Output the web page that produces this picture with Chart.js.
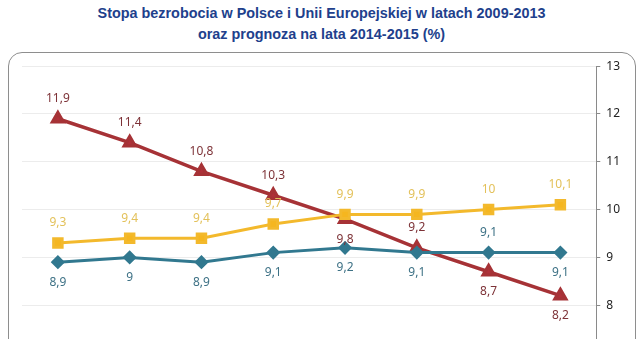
<!DOCTYPE html>
<html>
<head>
<meta charset="utf-8">
<script src="https://cdn.jsdelivr.net/npm/chart.js@4"></script>
<style>
    body { margin: 0; background: #fff; overflow: hidden; width: 643px; height: 339px; position: relative; }
    .title {
        position: absolute; left: 0; top: 3px; width: 643px; text-align: center;
        font-family: 'Liberation Sans', Arial, sans-serif; font-weight: bold; font-size: 14.4px;
        line-height: 21px; color: #213f8c;
    }
    .box {
        position: absolute; left: 8px; top: 52px; width: 626px; height: 400px;
        border: 1px solid #8e8e8e; border-radius: 14px;
    }
    .wrap { position: absolute; left: 9px; top: 53px; width: 625px; height: 330px; }
</style>
</head>
<body>
<div class="title">Stopa bezrobocia w Polsce i Unii Europejskiej w latach 2009-2013<br>oraz prognoza na lata 2014-2015 (%)</div>
<div class="box"></div>
<div class="wrap"><canvas id="chart"></canvas></div>
<script>
// Years and series
const years = ['2008', '2009', '2010', '2011', '2012', '2013', '2014', '2015'];
const seriesTeal = [8.9, 9, 8.9, 9.1, 9.2, 9.1, 9.1, 9.1];
const seriesGold = [9.3, 9.4, 9.4, 9.7, 9.9, 9.9, 10, 10.1];
const seriesRed = [11.9, 11.4, 10.8, 10.3, 9.8, 9.2, 8.7, 8.2];

// Which side of the point each value label sits on
const tealLabelSide = ['below', 'below', 'below', 'below', 'below', 'below', 'above', 'below'];
const goldLabelSide = ['above', 'above', 'above', 'above', 'above', 'above', 'above', 'above'];
const redLabelSide = ['above', 'above', 'above', 'above', 'below', 'above', 'below', 'below'];

// Draws "9,1"-style value labels next to each point
const valueLabels = {
    id: 'valueLabels',
    afterDatasetsDraw(chart) {
        const ctx = chart.ctx;
        ctx.save();
        ctx.font = '12px "Noto Sans", "Liberation Sans", sans-serif';
        ctx.textAlign = 'center';
        ctx.textBaseline = 'middle';
        chart.data.datasets.forEach((ds, i) => {
            const meta = chart.getDatasetMeta(i);
            ctx.fillStyle = ds.labelColor;
            meta.data.forEach((pt, j) => {
                const txt = String(ds.data[j]).replace('.', ',');
                const dy = ds.labelSide[j] === 'above' ? -20 : 20;
                ctx.fillText(txt, pt.x, pt.y + dy);
            });
        });
        ctx.restore();
    }
};

const ctx = document.getElementById('chart').getContext('2d');
const chart = new Chart(ctx, {
    type: 'line',
    data: {
        labels: years,
        datasets: [{
            label: 'Seria 1',
            data: seriesTeal,
            borderColor: '#31788f',
            backgroundColor: '#31788f',
            borderWidth: 3,
            pointStyle: 'rectRot',
            pointRadius: 5,
            labelColor: '#3d7185',
            labelSide: tealLabelSide
        }, {
            label: 'Seria 2',
            data: seriesGold,
            borderColor: '#f3b92c',
            backgroundColor: '#f5b61f',
            borderWidth: 3,
            pointStyle: 'rect',
            pointRadius: 6,
            labelColor: '#e3c15a',
            labelSide: goldLabelSide
        }, {
            label: 'Seria 3',
            data: seriesRed,
            borderColor: '#a63236',
            backgroundColor: '#b0303a',
            borderWidth: 3.5,
            pointStyle: 'triangle',
            pointRadius: 6,
            labelColor: '#7d3237',
            labelSide: redLabelSide
        }]
    },
    options: {
        responsive: true,
        maintainAspectRatio: false,
        animation: false,
        layout: { padding: { left: 13, right: 8, top: 10, bottom: 0 } },
        scales: {
            x: {
                offset: true,
                grid: { display: false },
                border: { display: false },
                ticks: { color: '#333', font: { size: 12 } },
                afterFit(scale) { scale.height = 30; }
            },
            y: {
                position: 'right',
                min: 7,
                max: 13,
                ticks: {
                    stepSize: 1,
                    padding: 6,
                    color: '#222',
                    font: { family: '"Noto Sans", "Liberation Sans", sans-serif', size: 12 }
                },
                grid: { color: '#ececec', tickColor: '#8a8a8a', tickLength: 4 },
                border: { color: '#8a8a8a' }
            }
        },
        plugins: {
            legend: { display: false },
            tooltip: { enabled: false }
        }
    },
    plugins: [valueLabels]
});
</script>
</body>
</html>
